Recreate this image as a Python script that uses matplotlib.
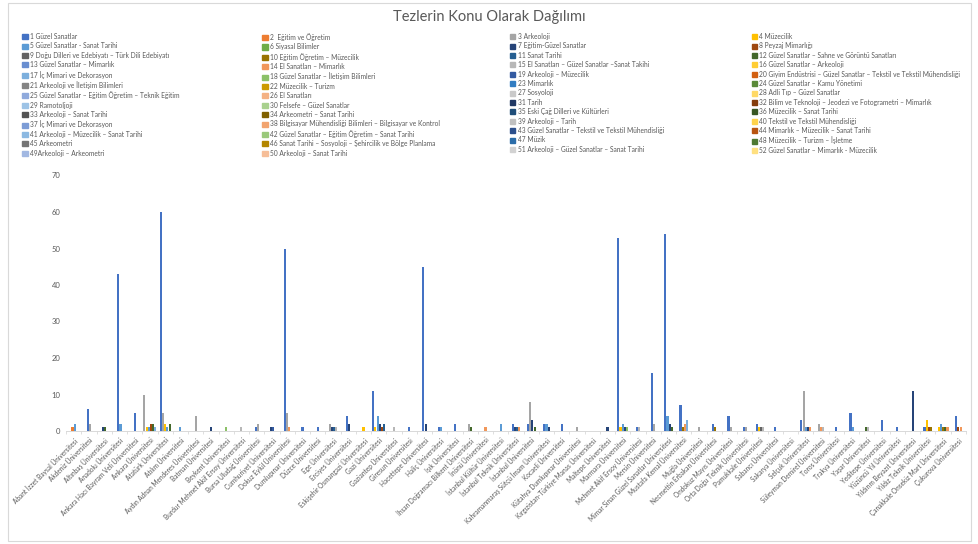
import colorsys
import numpy as np
import matplotlib
matplotlib.use("Agg")
import matplotlib.pyplot as plt
import matplotlib.colors as mcolors
from matplotlib.patches import Patch, Rectangle

plt.rcParams['font.family'] = ['Lato', 'DejaVu Sans']

universities = [
    "Abant İzzet Baysal Üniversitesi", "Akdeniz Üniversitesi", "Altınbaş Üniversitesi",
    "Anadolu Üniversitesi", "Ankara Hacı Bayram Veli Üniversitesi", "Ankara Üniversitesi",
    "Atatürk Üniversitesi", "Atılım Üniversitesi", "Aydın Adnan Menderes Üniversitesi",
    "Batman Üniversitesi", "Beykent Üniversitesi", "Burdur Mehmet Akif Ersoy Üniversitesi",
    "Bursa Uludağ Üniversitesi", "Cumhuriyet Üniversitesi", "Dokuz Eylül Üniversitesi",
    "Dumlupınar Üniversitesi", "Düzce Üniversitesi", "Ege Üniversitesi", "Erciyes Üniversitesi",
    "Eskişehir Osmangazi Üniversitesi", "Gazi Üniversitesi", "Gaziantep Üniversitesi",
    "Giresun Üniversitesi", "Hacettepe Üniversitesi", "Haliç Üniversitesi", "Işık Üniversitesi",
    "İhsan Doğramacı Bilkent Üniversitesi", "İnönü Üniversitesi", "İstanbul Kültür Üniversitesi",
    "İstanbul Teknik Üniversitesi", "İstanbul Üniversitesi",
    "Kahramanmaraş Sütçü İmam Üniversitesi", "Kocaeli Üniversitesi",
    "Kütahya Dumlupınar Üniversitesi", "Kırgızistan-Türkiye Manas Üniversitesi",
    "Maltepe Üniversitesi", "Marmara Üniversitesi", "Mehmet Akif Ersoy Üniversitesi",
    "Mersin Üniversitesi", "Mimar Sinan Güzel Sanatlar Üniversitesi", "Mustafa Kemal Üniversitesi",
    "Muğla Üniversitesi", "Necmettin Erbakan Üniversitesi", "Ondokuz Mayıs Üniversitesi",
    "Orta Doğu Teknik Üniversitesi", "Pamukkale Üniversitesi", "Sabancı Üniversitesi",
    "Sakarya Üniversitesi", "Selçuk Üniversitesi", "Süleyman Demirel Üniversitesi",
    "Toros Üniversitesi", "Trakya Üniversitesi", "Yaşar Üniversitesi", "Yeditepe Üniversitesi",
    "Yüzüncü Yıl Üniversitesi", "Yıldırım Beyazıt Üniversitesi", "Yıldız Teknik Üniversitesi",
    "Çanakkale Onsekiz Mart Üniversitesi", "Çukurova Üniversitesi",
]

topics = [
    "1 Güzel Sanatlar", "2  Eğitim ve Öğretim", "3 Arkeoloji", "4 Müzecilik",
    "5 Güzel Sanatlar - Sanat Tarihi", "6 Siyasal Bilimler", "7 Eğitim-Güzel Sanatlar",
    "8 Peyzaj Mimarlığı", "9 Doğu Dilleri ve Edebiyatı – Türk Dili Edebiyatı",
    "10 Eğitim Öğretim – Müzecilik", "11 Sanat Tarihi",
    "12 Güzel Sanatlar – Sahne ve Görüntü Sanatları", "13 Güzel Sanatlar – Mimarlık",
    "14 El Sanatları – Mimarlık", "15 El Sanatları – Güzel Sanatlar –Sanat Takihi",
    "16 Güzel Sanatlar – Arkeoloji", "17 İç Mimari ve Dekorasyon",
    "18 Güzel Sanatlar – İletişim Bilimleri", "19 Arkeoloji – Müzecilik",
    "20 Giyim Endüstrisi – Güzel Sanatlar – Tekstil ve Tekstil Mühendisliği",
    "21 Arkeoloji ve İletişim Bilimleri", "22 Müzecilik – Turizm", "23 Mimarlık",
    "24 Güzel Sanatlar – Kamu Yönetimi",
    "25 Güzel Sanatlar – Eğitim Öğretim – Teknik Eğitim", "26 El Sanatları", "27 Sosyoloji",
    "28 Adli Tıp – Güzel Sanatlar", "29 Ramotoljoji", "30 Felsefe – Güzel Sanatlar", "31 Tarih",
    "32 Bilim ve Teknoloji – Jeodezi ve Fotogrametri – Mimarlık", "33 Arkeoloji – Sanat Tarihi",
    "34 Arkeometri – Sanat Tarihi", "35 Eski Çağ Dilleri ve Kültürleri",
    "36 Müzecilik – Sanat Tarihi", "37 İç Mimari ve Dekorasyon",
    "38 Bilgisayar Mühendisliği Bilimleri – Bilgisayar ve Kontrol", "39 Arkeoloji – Tarih",
    "40 Tekstil ve Tekstil Mühendisliği", "41 Arkeoloji – Müzecilik – Sanat Tarihi",
    "42 Güzel Sanatlar – Eğitim Öğretim – Sanat Tarihi",
    "43 Güzel Sanatlar – Tekstil ve Tekstil Mühendisliği",
    "44 Mimarlık – Müzecilik – Sanat Tarihi", "45 Arkeometri",
    "46 Sanat Tarihi – Sosyoloji – Şehircilik ve Bölge Planlama", "47 Müzik",
    "48 Müzecilik – Turizm – İşletme", "49Arkeoloji – Arkeometri",
    "50 Arkeoloji – Sanat Tarihi", "51 Arkeoloji – Güzel Sanatlar – Sanat Tarihi",
    "52 Güzel Sanatlar – Mimarlık - Müzecilik",
]

# thesis counts per university: {topic number: count} (zero counts omitted)
counts = [
    {2: 1, 5: 2}, {1: 6, 3: 2}, {7: 1, 12: 1}, {1: 43, 5: 2}, {1: 5},
    {3: 10, 4: 1, 5: 1, 8: 2, 12: 2, 17: 1}, {1: 60, 3: 5, 4: 2, 5: 1, 12: 2},
    {5: 1}, {3: 4}, {7: 1}, {18: 1}, {15: 1}, {1: 1, 3: 2}, {7: 1, 19: 1},
    {1: 50, 3: 5, 14: 1}, {1: 1}, {1: 1}, {3: 2, 7: 1, 11: 1, 15: 1}, {1: 4, 7: 2},
    {4: 1}, {1: 11, 4: 1, 5: 4, 7: 2, 8: 1, 11: 2}, {15: 1}, {1: 1}, {1: 45, 7: 2},
    {1: 1, 5: 1}, {1: 2}, {3: 2, 12: 1}, {14: 1}, {5: 2}, {1: 2, 7: 1, 11: 1, 14: 1},
    {1: 2, 3: 8, 7: 3, 12: 1}, {1: 2, 5: 2, 7: 1}, {1: 2}, {3: 1}, {},
    {7: 1}, {1: 53, 4: 1, 5: 2, 7: 1, 18: 1}, {1: 1, 15: 1}, {1: 16, 3: 2},
    {1: 54, 5: 4, 7: 2, 12: 1}, {1: 7, 10: 1, 14: 2, 17: 3}, {3: 1}, {1: 2, 10: 1},
    {1: 4, 3: 1}, {1: 1, 3: 1}, {1: 2, 4: 1, 9: 1, 15: 1}, {1: 1}, {},
    {1: 3, 3: 11, 5: 1, 7: 1, 14: 1}, {3: 2, 14: 1, 15: 1}, {1: 1}, {1: 5, 5: 1},
    {12: 1, 15: 1}, {1: 3}, {1: 1}, {7: 11}, {1: 1, 4: 3, 8: 1, 10: 1},
    {4: 1, 5: 2, 10: 1, 12: 1, 14: 1}, {1: 4, 8: 1, 14: 1},
]

y_ticks = [0, 10, 20, 30, 40, 50, 60, 70]

# ---- colours (Office theme cycle with luminance variants) ----
base = ['#4472C4', '#ED7D31', '#A5A5A5', '#FFC000', '#5B9BD5', '#70AD47']
lum_steps = [(1, 0), (0.6, 0), (0.8, 0.2), (0.8, 0), (0.6, 0.4), (0.5, 0), (0.7, 0.3), (0.7, 0), (0.5, 0.5)]


def shade(hexc, mod, off):
    r, g, b = mcolors.to_rgb(hexc)
    h, l, s = colorsys.rgb_to_hls(r, g, b)
    l = min(1.0, l * mod + off)
    return colorsys.hls_to_rgb(h, l, s)


colors = [shade(base[k % 6], *lum_steps[k // 6]) for k in range(len(topics))]

W, H = 979, 544
fig = plt.figure(figsize=(W / 100, H / 100), dpi=100)
ax = fig.add_axes([66 / W, 113 / H, 900 / W, 255.5 / H])

n_uni = len(universities)
n_top = len(topics)
vals = np.zeros((n_uni, n_top))
for i, d in enumerate(counts):
    for t, v in d.items():
        vals[i, t - 1] = v

step = 0.145
bw = 0.14
xs = [[] for _ in range(n_top)]
hs = [[] for _ in range(n_top)]
for i in range(n_uni):
    nz = np.nonzero(vals[i])[0]
    n = len(nz)
    for rank, k in enumerate(nz):
        xs[k].append(i + (rank - (n - 1) / 2) * step)
        hs[k].append(vals[i, k])
for k in range(n_top):
    if xs[k]:
        ax.bar(xs[k], hs[k], width=bw, color=colors[k], linewidth=0)

ax.set_xlim(-0.5, n_uni - 0.5)
ax.set_ylim(0, 70)
ax.set_yticks(y_ticks)
ax.tick_params(axis='y', length=0, labelsize=5.5, labelcolor='#595959', pad=4)
ax.set_xticks(range(n_uni))
ax.set_xticklabels(universities, rotation=45, ha='right', rotation_mode='anchor',
                   fontsize=4.7, color='#595959')
ax.tick_params(axis='x', length=0, pad=4)
ax.set_xticks(np.arange(-0.5, n_uni), minor=True)
ax.tick_params(axis='x', which='minor', length=2.5, color='#D9D9D9', width=0.6)
for s in ['top', 'right', 'left']:
    ax.spines[s].set_visible(False)
ax.spines['bottom'].set_color('#D9D9D9')
ax.spines['bottom'].set_linewidth(0.7)

fig.text(0.5, 1 - 17 / H, "Tezlerin Konu Olarak Dağılımı", ha='center', va='center',
         fontsize=10.5, color='#595959')

# legend: 4 columns, row order like Excel
col_x = [22.5, 262.5, 510, 751.5]
for c in range(4):
    idx = list(range(c, n_top, 4))
    handles = [Patch(facecolor=colors[k], edgecolor=colors[k]) for k in idx]
    labels = [topics[k] for k in idx]
    fig.legend(handles, labels, loc='upper left', bbox_to_anchor=(col_x[c] / W, 1 - 33 / H),
               frameon=False, fontsize=4.8, labelspacing=0.36, handlelength=0.8,
               handleheight=0.8, handletextpad=0.35, borderpad=0, borderaxespad=0,
               labelcolor='#595959')

fig.patches.append(Rectangle((8 / W, 3 / H), 963 / W, 538 / H, transform=fig.transFigure,
                             fill=False, edgecolor='#D9D9D9', linewidth=0.8))

fig.savefig("out.png", dpi=100)
